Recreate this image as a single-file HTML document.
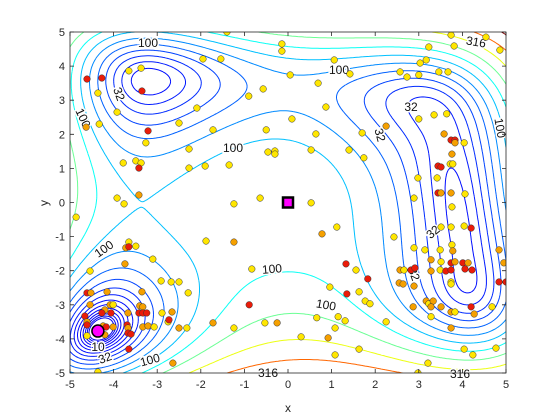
<!DOCTYPE html>
<html><head><meta charset="utf-8"><style>
body{margin:0;background:#fff}
svg{display:block;font-family:"Liberation Sans",sans-serif}
</style></head><body>
<svg id="chart" width="560" height="420" viewBox="0 0 560 420" xmlns="http://www.w3.org/2000/svg">
<rect x="0" y="0" width="560" height="420" fill="#fff"/>
<defs><clipPath id="clip"><rect x="70" y="32" width="436" height="341"/></clipPath></defs>
<g id="contours" clip-path="url(#clip)"></g>
<g id="labels"></g>
<g id="points" clip-path="url(#clip)"></g>
<g id="axes"></g>
</svg>
<script>
const xTicks=[-5,-4,-3,-2,-1,0,1,2,3,4,5];
const yTicks=[-5,-4,-3,-2,-1,0,1,2,3,4,5];
const levelExps=[0.5,0.625,0.75,0.875,1,1.125,1.25,1.375,1.5,1.625,1.75,1.875,2,2.125,2.25,2.375,2.5,2.625];
const ptX=[-1.40,-0.14,-0.14,-1.95,-1.54,-3.65,-3.37,-4.61,-4.27,0.05,-3.35,-4.36,-0.90,-0.57,-2.09,-3.92,-4.63,-4.33,-2.50,-3.21,-1.72,-0.50,-3.26,-2.27,-0.46,-0.30,-0.30,-3.78,-3.49,-3.37,-3.42,-2.27,-1.90,-1.35,-3.92,-3.42,-3.76,-1.24,-0.64,
3.74,4.54,4.86,3.23,3.81,1.06,3.03,3.17,1.42,0.69,2.57,2.73,3.00,3.46,3.67,0.87,0.09,3.00,3.35,3.64,2.25,0.64,1.70,3.58,3.74,3.83,3.83,4.04,0.53,1.40,1.74,3.76,3.44,3.51,3.72,3.78,2.98,3.42,3.44,3.51,3.74,4.06,2.89,0.53,
-4.86,-3.65,-3.72,-3.65,-3.49,-1.88,-1.24,-3.10,-3.74,-4.54,-0.83,-2.91,-2.68,-2.50,-2.29,-4.61,-4.52,-4.15,-3.35,-4.54,-4.08,-4.01,-4.20,-4.27,-4.06,-3.67,-3.40,-3.33,-3.42,-3.33,-3.24,-2.89,-2.66,-0.89,-4.66,-4.61,-4.61,-4.24,-4.17,-4.01,-3.69,-3.67,-3.67,-3.60,-3.33,-3.21,-3.07,-2.75,-2.73,-2.50,-2.32,-1.72,-1.24,-0.53,-0.25,-4.61,-4.20,-3.65,-2.64,-4.36,
3.76,1.12,0.78,2.43,3.51,3.74,4.04,4.20,2.89,3.14,3.49,3.76,3.78,4.84,1.33,1.56,1.83,3.28,3.51,3.74,3.83,4.01,4.13,4.95,2.57,2.66,2.82,2.91,3.28,3.49,3.62,3.74,4.06,4.22,2.55,2.64,2.89,3.74,3.74,4.84,5.00,0.96,1.35,1.63,1.77,1.88,3.17,3.23,3.33,3.28,3.51,2.87,3.74,3.83,4.20,4.27,4.68,0.66,1.15,1.31,2.25,3.28,1.08,3.74,0.30,0.92,1.63,4.04,4.77,1.08,4.24,3.21,2.98];
const ptY=[5.0,4.65,4.44,4.21,4.21,3.86,3.94,3.62,3.65,3.74,3.27,3.21,3.12,3.33,2.77,2.65,2.21,2.30,2.33,2.10,2.13,2.13,1.75,1.57,1.48,1.51,1.42,1.16,1.22,1.16,1.01,1.01,1.07,1.10,0.13,0.22,-0.04,-0.04,0.13,
4.91,4.85,4.47,4.56,4.59,4.18,4.09,4.18,3.77,3.50,3.83,3.68,3.74,3.83,3.83,2.80,2.45,2.45,2.57,2.60,2.24,2.01,2.04,2.01,1.83,1.83,1.75,1.75,1.54,1.54,1.31,1.42,1.07,1.04,1.13,1.13,0.72,0.72,0.28,0.28,0.28,0.25,0.13,-0.01,
-0.43,-1.16,-1.33,-1.30,-1.28,-1.13,-1.16,-1.66,-1.80,-2.01,-1.95,-2.30,-2.33,-2.33,-2.65,-2.65,-2.65,-2.62,-2.62,-3.00,-3.00,-3.00,-3.15,-3.24,-3.24,-3.24,-3.03,-3.06,-3.24,-3.24,-3.24,-3.24,-3.21,-3.00,-3.33,-3.50,-3.59,-3.62,-3.65,-3.65,-3.59,-3.68,-3.83,-3.86,-3.65,-3.62,-3.65,-3.50,-3.44,-3.68,-3.68,-3.53,-3.68,-3.53,-3.53,-3.91,-3.88,-4.30,-4.71,-4.97,
-0.13,-0.72,-0.92,-1.01,-0.72,-0.72,-0.69,-0.75,-1.33,-1.39,-1.39,-1.24,-1.42,-1.39,-1.80,-1.98,-2.24,-1.68,-1.74,-1.77,-1.74,-1.77,-1.77,-1.77,-1.98,-1.98,-1.98,-1.92,-2.01,-1.98,-2.01,-1.98,-1.95,-1.98,-2.36,-2.39,-2.45,-2.33,-2.39,-2.33,-2.33,-2.48,-2.68,-2.62,-2.89,-2.97,-2.89,-2.97,-2.89,-3.06,-3.06,-3.06,-3.21,-3.21,-3.06,-3.27,-3.06,-3.38,-3.35,-3.47,-3.50,-3.35,-3.68,-3.68,-3.94,-3.97,-4.30,-4.30,-4.27,-4.47,-4.47,-4.71,-5.0];
const ptC="yyyyyyyrryryyyyyoyyryyyyyyyyyyryyyyoyyy"
+"yyyyyyyyyyyyyyyyyyyyoyyorroyyyyorryyyyrooyyy"
+"yyoryyoyoyyyyyyroooooyorrooorrryorrororororrooyyroyoyyoyoroyyy"
+"oyyyyryyyyooryroyroroooyrroyrrrroooyyrryryyyoyoooooyroyyyyyyyoyoyyyyyyyyy";
const minX=[-4.36], minY=[-3.77];
const sqX=[0], sqY=[0];

const X0=70,X1=506,Y0=32,Y1=373;
const sx=v=>X0+(v+5)/10*(X1-X0);
const sy=v=>Y1-(v+5)/10*(Y1-Y0);
const NS="http://www.w3.org/2000/svg";
function mk(t,a){const e=document.createElementNS(NS,t);for(const k in a)e.setAttribute(k,a[k]);return e;}
const S=0.88;
function g2(x,y,cx,cy,s){return Math.exp(-((x-cx)**2+(y-cy)**2)/(2*s*s));}
function f(x,y){const X=x*S,Y=y*S;let v=(X*X+Y-11)**2+(X+Y*Y-7)**2;
 v+=14*g2(x,y,-3.2,3.5,1.1)+20*g2(x,y,3.3,2.2,1.0)+16*g2(x,y,4.0,-2.1,1.0);
 v-=60*g2(x,y,-0.3,-1.0,1.4);
 return Math.max(v,0.5);}
function jet(t){t=Math.max(0,Math.min(1,t));const r=Math.min(1,Math.max(0,1.5-Math.abs(4*t-3))),g=Math.min(1,Math.max(0,1.5-Math.abs(4*t-2))),b=Math.min(1,Math.max(0,1.5-Math.abs(4*t-1)));return `rgb(${Math.round(r*255)},${Math.round(g*255)},${Math.round(b*255)})`;}
const N=220,M=180,gx=[],gy=[],G=[];
for(let i=0;i<=N;i++)gx.push(-5+10*i/N);
for(let j=0;j<=M;j++)gy.push(-5+10*j/M);
for(let j=0;j<=M;j++){G[j]=[];for(let i=0;i<=N;i++)G[j][i]=f(gx[i],gy[j]);}
const levels=levelExps.map(e=>Math.pow(10,e));
const lmax=levels[levels.length-1];
const cg=document.getElementById('contours');
levels.forEach((L,li)=>{
  let d="";
  for(let j=0;j<M;j++)for(let i=0;i<N;i++){
    const v=[G[j][i],G[j][i+1],G[j+1][i+1],G[j+1][i]];
    const p=[[gx[i],gy[j]],[gx[i+1],gy[j]],[gx[i+1],gy[j+1]],[gx[i],gy[j+1]]];
    const pts=[];
    for(let k=0;k<4;k++){const a=v[k],b=v[(k+1)%4];if((a<L)!==(b<L)){const t=(L-a)/(b-a);const A=p[k],B=p[(k+1)%4];pts.push([A[0]+t*(B[0]-A[0]),A[1]+t*(B[1]-A[1])]);}}
    for(let k=0;k+1<pts.length;k+=2){d+=`M${sx(pts[k][0]).toFixed(1)} ${sy(pts[k][1]).toFixed(1)}L${sx(pts[k+1][0]).toFixed(1)} ${sy(pts[k+1][1]).toFixed(1)}`;}
  }
  const path=mk('path',{d:d,fill:'none',stroke:jet(0.1+0.9*L/lmax),'stroke-width':1});
  
  
  cg.appendChild(path);
});
const lab=[["100",148,43,0],["32",119,94,70],["100",83,118,65],["100",339,70,0],["316",476,42,10],["32",411,107,0],["32",380,135,75],["100",500,128,80],["100",233,148,0],["100",272,269,-5],["100",326,305,10],["32",433,232,-40],["32",414,274,70],["100",104,249,-35],["10",98,347,0],["32",105,358,-20],["100",150,360,-15],["316",268,373,0],["316",460,374,0]];
const lg=document.getElementById('labels');
lab.forEach(l=>{const t=mk('text',{x:l[1],y:l[2],'font-size':12,'text-anchor':'middle','dominant-baseline':'central',fill:'#111',stroke:'#fff','stroke-width':3,'paint-order':'stroke',transform:`rotate(${l[3]} ${l[1]} ${l[2]})`});t.textContent=l[0];


lg.appendChild(t);});
const col={y:'#ffe600',o:'#f5a000',r:'#ea1c0a'};
const pg=document.getElementById('points');
for(let i=0;i<ptX.length;i++){const c=mk('circle',{cx:sx(ptX[i]),cy:sy(ptY[i]),r:3.3,fill:col[ptC[i]]||col.y,stroke:'#333','stroke-width':0.5});


pg.appendChild(c);}
const mc=mk('circle',{cx:sx(minX[0]),cy:sy(minY[0]),r:6,fill:'#ff00ff',stroke:'#000','stroke-width':1.5});


pg.appendChild(mc);
const sq=mk('rect',{x:sx(sqX[0])-5,y:sy(sqY[0])-5,width:10,height:10,fill:'#ff00ff',stroke:'#000','stroke-width':2.5});


pg.appendChild(sq);
const ag=document.getElementById('axes');
const box=mk('rect',{x:X0,y:Y0,width:X1-X0,height:Y1-Y0,fill:'none',stroke:'#262626','stroke-width':0.8});


ag.appendChild(box);
xTicks.forEach(v=>{const x=sx(v);
const t1=mk('path',{d:`M${x} ${Y1}v-4M${x} ${Y0}v4`,stroke:'#262626','stroke-width':0.8});


ag.appendChild(t1);
const tx=mk('text',{x:x,y:Y1+15,'font-size':11,'text-anchor':'middle',fill:'#262626'});tx.textContent=v;


ag.appendChild(tx);});
yTicks.forEach(v=>{const y=sy(v);
const t1=mk('path',{d:`M${X0} ${y}h4M${X1} ${y}h-4`,stroke:'#262626','stroke-width':0.8});


ag.appendChild(t1);
const tx=mk('text',{x:X0-5,y:y+4,'font-size':11,'text-anchor':'end',fill:'#262626'});tx.textContent=v;


ag.appendChild(tx);});
const xl=mk('text',{x:288,y:412,'font-size':12,'text-anchor':'middle',fill:'#262626'});xl.textContent='x';


ag.appendChild(xl);
const yl=mk('text',{x:48,y:203,'font-size':12,'text-anchor':'middle',fill:'#262626',transform:'rotate(-90 48 203)'});yl.textContent='y';


ag.appendChild(yl);
</script>
</body></html>
